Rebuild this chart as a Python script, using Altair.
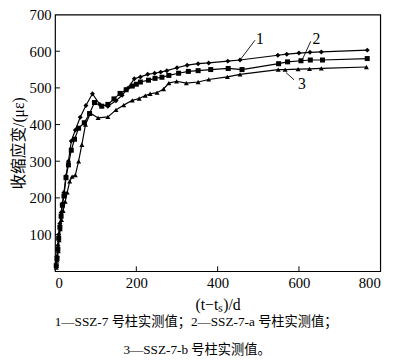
import altair as alt
import pandas as pd

# Series 1 — SSZ-7 (diamonds)
t1 = [3, 5, 7, 9, 12, 15, 18, 22, 27, 33, 40, 50, 62, 76, 92, 110, 130, 150, 165, 180, 195,
      210, 228, 245, 260, 275, 300, 325, 352, 378, 425, 455, 548, 570, 600, 627, 655, 768]
v1 = [15, 40, 70, 100, 130, 160, 185, 215, 260, 300, 355, 385, 420, 452, 484, 455, 450, 465, 480, 500, 525,
      530, 537, 540, 543, 547, 555, 562, 566, 568, 573, 576, 589, 592, 595, 597, 598, 603]

# Series 2 — SSZ-7-a (squares)
t2 = [3, 5, 7, 9, 12, 15, 18, 22, 27, 33, 40, 48, 58, 72, 85, 97, 115, 130, 145, 160, 175, 190, 200,
      210, 230, 246, 263, 280, 304, 328, 352, 383, 426, 460, 550, 572, 605, 628, 658, 768]
v2 = [15, 35, 60, 90, 120, 150, 180, 205, 255, 290, 330, 360, 390, 405, 430, 460, 450, 455, 470, 485, 495, 505, 510,
      516, 521, 526, 529, 534, 540, 545, 547, 550, 553, 550, 566, 571, 574, 576, 576, 580]

# Series 3 — SSZ-7-b (triangles)
t3 = [3, 5, 8, 10, 13, 16, 20, 25, 30, 36, 42, 50, 58, 66, 75, 87, 106, 130, 150, 169, 190, 207, 222,
      234, 251, 267, 280, 299, 323, 352, 378, 424, 455, 549, 566, 598, 626, 655, 766]
v3 = [10, 30, 55, 85, 115, 140, 165, 190, 215, 245, 258, 262, 300, 345, 400, 431, 418, 421, 440, 453, 466, 471, 479,
      484, 487, 497, 513, 518, 513, 516, 523, 530, 537, 550, 550, 551, 552, 553, 557]

series_names = ["1", "2", "3"]
x_ticks = [0, 200, 400, 600, 800]
y_ticks = [100, 200, 300, 400, 500, 600, 700]

# annotation labels and leader lines (data coordinates)
ann_label = ["1", "2", "3"]
ann_tx = [504, 643, 607]
ann_ty = [632, 632, 511]
lead_x = [455, 607, 568]
lead_y = [576, 574, 542]
lead_x2 = [492, 629, 588]
lead_y2 = [630, 627, 522]

caption_lines = ["1—SSZ-7 号柱实测值；2—SSZ-7-a 号柱实测值；", "3—SSZ-7-b 号柱实测值。"]

rows = []
for name, ts, vs in zip(series_names, [t1, t2, t3], [v1, v2, v3]):
    for t, v in zip(ts, vs):
        rows.append({"s": name, "t": t, "v": v})
df = pd.DataFrame(rows)

W, H = 332, 262
SERIF = "Liberation Serif, Times New Roman, serif"
CJK = "Liberation Serif, Noto Sans CJK SC, serif"

xs = alt.Scale(domain=[0, 800], nice=False)
ys = alt.Scale(domain=[0, 700], nice=False)

x_axis = alt.Axis(values=x_ticks, title="(t−tₛ)/d", ticks=False, grid=False, domain=False,
                  labelFont=SERIF, labelFontSize=15, labelColor="black", labelPadding=5,
                  titleFont=SERIF, titleFontSize=16, titleFontWeight="normal", titleColor="black",
                  titlePadding=6)
y_axis = alt.Axis(values=y_ticks, title="收缩应变/(με)", ticks=False, grid=False, domain=False,
                  labelFont=SERIF, labelFontSize=15, labelColor="black", labelPadding=4,
                  labelExpr="datum.value == 0 ? '' : datum.label",
                  titleFont=CJK, titleFontSize=16, titleFontWeight="normal", titleColor="black",
                  titlePadding=3)

base = alt.Chart(df)
lines = base.mark_line(color="black", strokeWidth=1.2).encode(
    x=alt.X("t:Q", scale=xs, axis=x_axis),
    y=alt.Y("v:Q", scale=ys, axis=y_axis),
    detail="s:N",
)
points = base.mark_point(filled=True, color="black", opacity=1, size=26).encode(
    x=alt.X("t:Q", scale=xs),
    y=alt.Y("v:Q", scale=ys),
    shape=alt.Shape("s:N", scale=alt.Scale(domain=series_names,
                                           range=["diamond", "square", "triangle-up"]),
                    legend=None),
)

xt = alt.Chart(pd.DataFrame({"t": x_ticks[1:-1]})).mark_rule(color="black", strokeWidth=1).encode(
    x=alt.X("t:Q", scale=xs), y=alt.value(H), y2=alt.value(H - 5))
yt = alt.Chart(pd.DataFrame({"v": y_ticks[:-1]})).mark_rule(color="black", strokeWidth=1).encode(
    y=alt.Y("v:Q", scale=ys), x=alt.value(0), x2=alt.value(5))

ann_df = pd.DataFrame({"label": ann_label, "tx": ann_tx, "ty": ann_ty,
                       "lx": lead_x, "ly": lead_y, "lx2": lead_x2, "ly2": lead_y2})
leaders = alt.Chart(ann_df).mark_rule(color="black", strokeWidth=0.9).encode(
    x=alt.X("lx:Q", scale=xs), y=alt.Y("ly:Q", scale=ys),
    x2="lx2:Q", y2="ly2:Q")
labels = alt.Chart(ann_df).mark_text(font=SERIF, fontSize=16, color="black").encode(
    x=alt.X("tx:Q", scale=xs), y=alt.Y("ty:Q", scale=ys), text="label:N")

cap1 = alt.Chart(pd.DataFrame({"c": [caption_lines[0]]})).mark_text(
    font=CJK, fontSize=13.5, color="black", baseline="middle").encode(
    text="c:N", x=alt.value(144), y=alt.value(H + 52))
cap2 = alt.Chart(pd.DataFrame({"c": [caption_lines[1]]})).mark_text(
    font=CJK, fontSize=13.5, color="black", baseline="middle").encode(
    text="c:N", x=alt.value(145), y=alt.value(H + 80))

chart = alt.layer(lines, points, xt, yt, leaders, labels, cap1, cap2).properties(
    width=W, height=H, autosize="none",
    padding={"left": 48, "top": 3, "right": 12, "bottom": 90},
).configure_view(stroke="black", strokeWidth=1.2)

chart.save("out.html", embed_options={"renderer": "svg", "actions": False})
